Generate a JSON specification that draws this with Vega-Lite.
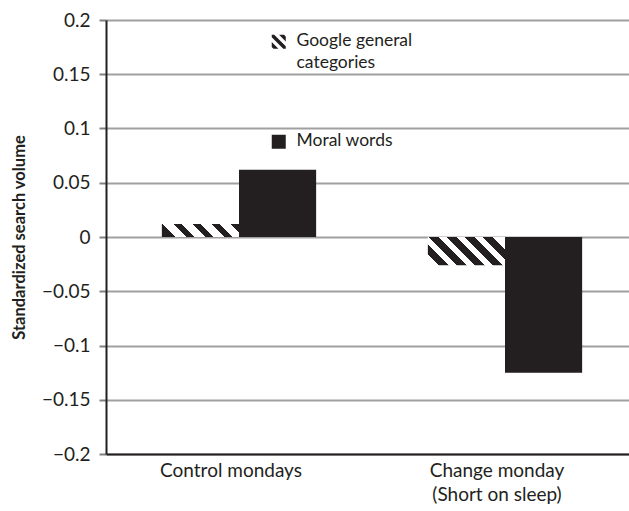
{
  "$schema": "https://vega.github.io/schema/vega-lite/v6.json",
  "width": 523,
  "height": 434,
  "autosize": {"type": "none"},
  "padding": {"left": 106, "top": 20, "right": 0, "bottom": 57},
  "config": {"font": "Lato", "view": {"stroke": null}},
  "data": {
    "values": [
      {"cat": "Control mondays", "series": "Google general categories", "value": 0.012},
      {"cat": "Control mondays", "series": "Moral words", "value": 0.062},
      {"cat": "Change monday (Short on sleep)", "series": "Google general categories", "value": -0.026},
      {"cat": "Change monday (Short on sleep)", "series": "Moral words", "value": -0.125}
    ]
  },
  "encoding": {
    "x": {
      "field": "cat", "type": "nominal",
      "scale": {"domain": ["Control mondays", "Change monday (Short on sleep)"], "range": [0, 532], "paddingInner": 0.42, "paddingOuter": 0.21},
      "axis": {
        "title": null, "ticks": false, "labelAngle": 0,
        "domainColor": "#231f20", "domainWidth": 2,
        "labelFontSize": 19, "labelColor": "#231f20", "labelPadding": 7, "labelOffset": -8,
        "labelLineHeight": 24, "labelLimit": 300,
        "labelExpr": "datum.value === 'Change monday (Short on sleep)' ? ['Change monday', '(Short on sleep)'] : datum.value"
      }
    },
    "xOffset": {
      "field": "series", "type": "nominal",
      "scale": {"domain": ["Google general categories", "Moral words"]}
    },
    "y": {
      "field": "value", "type": "quantitative",
      "scale": {"domain": [-0.2, 0.2], "nice": false, "zero": false},
      "axis": {
        "title": "Standardized search volume",
        "values": [-0.2, -0.15, -0.1, -0.05, 0, 0.05, 0.1, 0.15, 0.2],
        "format": "~f",
        "grid": true, "gridColor": "#a0a0a0", "gridWidth": 2,
        "domainColor": "#231f20", "domainWidth": 2,
        "tickColor": "#808080", "tickWidth": 2, "tickSize": 7,
        "labelFontSize": 19, "labelColor": "#231f20", "labelPadding": 9,
        "titleFontSize": 16.5, "titleFontWeight": "bold", "titleColor": "#231f20", "titlePadding": 14
      }
    }
  },
  "layer": [
    {
      "mark": {"type": "bar"},
      "encoding": {
        "fill": {
          "field": "series", "type": "nominal",
          "scale": {"domain": ["Google general categories", "Moral words"], "range": ["#231f20", "#231f20"]},
          "condition": [
            {
              "test": "datum.series === 'Google general categories' && datum.cat === 'Control mondays'",
              "value": {
                "gradient": "linear", "x1": 0, "y1": 0.585, "x2": 1, "y2": 0.415,
                "stops": [
                  {"offset": 0, "color": "#231f20"}, {"offset": 0.101, "color": "#231f20"},
                  {"offset": 0.101, "color": "#ffffff"}, {"offset": 0.24, "color": "#ffffff"},
                  {"offset": 0.24, "color": "#231f20"}, {"offset": 0.341, "color": "#231f20"},
                  {"offset": 0.341, "color": "#ffffff"}, {"offset": 0.48, "color": "#ffffff"},
                  {"offset": 0.48, "color": "#231f20"}, {"offset": 0.581, "color": "#231f20"},
                  {"offset": 0.581, "color": "#ffffff"}, {"offset": 0.72, "color": "#ffffff"},
                  {"offset": 0.72, "color": "#231f20"}, {"offset": 0.821, "color": "#231f20"},
                  {"offset": 0.821, "color": "#ffffff"}, {"offset": 0.96, "color": "#ffffff"},
                  {"offset": 0.96, "color": "#231f20"}, {"offset": 1, "color": "#231f20"}
                ]
              }
            },
            {
              "test": "datum.series === 'Google general categories' && datum.cat !== 'Control mondays'",
              "value": {
                "gradient": "linear", "x1": 0, "y1": 0.684, "x2": 1, "y2": 0.316,
                "stops": [
                  {"offset": 0, "color": "#ffffff"}, {"offset": 0.02, "color": "#ffffff"},
                  {"offset": 0.02, "color": "#231f20"}, {"offset": 0.14, "color": "#231f20"},
                  {"offset": 0.14, "color": "#ffffff"}, {"offset": 0.225, "color": "#ffffff"},
                  {"offset": 0.225, "color": "#231f20"}, {"offset": 0.345, "color": "#231f20"},
                  {"offset": 0.345, "color": "#ffffff"}, {"offset": 0.43, "color": "#ffffff"},
                  {"offset": 0.43, "color": "#231f20"}, {"offset": 0.55, "color": "#231f20"},
                  {"offset": 0.55, "color": "#ffffff"}, {"offset": 0.635, "color": "#ffffff"},
                  {"offset": 0.635, "color": "#231f20"}, {"offset": 0.755, "color": "#231f20"},
                  {"offset": 0.755, "color": "#ffffff"}, {"offset": 0.84, "color": "#ffffff"},
                  {"offset": 0.84, "color": "#231f20"}, {"offset": 0.96, "color": "#231f20"},
                  {"offset": 0.96, "color": "#ffffff"}, {"offset": 1, "color": "#ffffff"}
                ]
              }
            }
          ],
          "legend": {
            "title": null, "orient": "none", "legendX": 164, "legendY": 13,
            "direction": "vertical", "symbolSize": 196, "symbolOpacity": 1,
            "symbolStrokeWidth": 0, "symbolFillColor": "#231f20", "labelFontSize": 17.5, "labelColor": "#231f20",
            "labelLimit": 400, "labelOffset": 9, "labelBaseline": "top", "rowPadding": 59,
            "labelExpr": "datum.value === 'Google general categories' ? ['Google general', 'categories'] : datum.value",
            "encode": {"labels": {"update": {"lineHeight": {"value": 22}, "dy": {"value": -10}}}}
          }
        }
      }
    },
    {
      "mark": {"type": "point", "filled": true, "opacity": 0},
      "encoding": {
        "fill": {
          "field": "series", "type": "nominal",
          "scale": {"domain": ["Google general categories", "Moral words"], "range": ["#231f20", "#231f20"]}
        },
        "shape": {
          "field": "series", "type": "nominal",
          "scale": {
            "domain": ["Google general categories", "Moral words"],
            "range": ["M-0.65,-1L1,0.65L1,1L0.65,1L-1,-0.65L-1,-1Z M0.05,-1L0.75,-1L1,-0.75L1,-0.05Z M-1,0.05L-0.05,1L-0.75,1L-1,0.75Z", "square"]
          },
          "legend": {
            "title": null, "orient": "none", "legendX": 164, "legendY": 13,
            "direction": "vertical", "symbolSize": 196, "symbolOpacity": 1,
            "symbolStrokeWidth": 0, "symbolFillColor": "#231f20", "labelFontSize": 17.5, "labelColor": "#231f20",
            "labelLimit": 400, "labelOffset": 9, "labelBaseline": "top", "rowPadding": 59,
            "labelExpr": "datum.value === 'Google general categories' ? ['Google general', 'categories'] : datum.value",
            "encode": {"labels": {"update": {"lineHeight": {"value": 22}, "dy": {"value": -10}}}}
          }
        }
      }
    },
    {
      "data": {"values": [{"cat": "Change monday (Short on sleep)"}]},
      "mark": {"type": "rule", "color": "#a0a0a0", "strokeWidth": 2},
      "encoding": {
        "x": {"field": "cat", "type": "nominal", "bandPosition": -0.3636},
        "xOffset": null,
        "y": {"datum": 0},
        "y2": {"datum": -0.0065}
      }
    }
  ]
}
